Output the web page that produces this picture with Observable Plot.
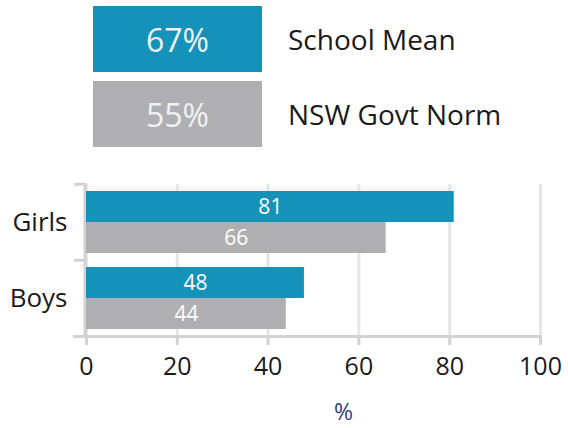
<!DOCTYPE html>
<html><head><meta charset="utf-8">
<script src="https://cdn.jsdelivr.net/npm/d3@7"></script>
<script src="https://cdn.jsdelivr.net/npm/@observablehq/plot@0.6"></script>
<style>
html,body{margin:0;padding:0;background:#fff;}
body{width:568px;height:428px;overflow:hidden;font-family:"Open Sans",sans-serif;}
#legend{height:160px;box-sizing:border-box;padding-top:6px;}
.row{display:flex;align-items:center;margin-left:93px;height:66px;margin-bottom:9px;}
.swatch{width:169px;height:66px;display:flex;align-items:center;justify-content:center;color:#eef2f4;font-size:32px;}
.name{margin-left:26px;font-size:28px;color:#1a1a1a;}
#chart svg{display:block;}
</style></head><body>
<div id="legend"></div><div id="chart"></div>
<script>
const categories = ["Girls", "Boys"];
const seriesNames = ["School Mean", "NSW Govt Norm"];
const schoolValues = [81, 48];
const normValues = [66, 44];
const overallValues = [67, 55];
const seriesColors = ["#1592b9", "#afafb1"];
const xTicks = [0, 20, 40, 60, 80, 100];

const seriesValues = [schoolValues, normValues];
const data = [];
categories.forEach((c, i) => seriesNames.forEach((s, j) => data.push({group: c, series: s, value: seriesValues[j][i]})));

// Legend
const rows = d3.select("#legend").selectAll("div.row").data(seriesNames).join("div").attr("class", "row");
rows.append("div").attr("class", "swatch").style("background", (d, i) => seriesColors[i]).text((d, i) => `${overallValues[i]}%`);
rows.append("div").attr("class", "name").text(d => d);

const W = 568, H = 268, mT = 23, mB = 92;
const band = (H - mT - mB) / categories.length;
const axisStroke = "#d2d2d2";

const chart = Plot.plot({
  width: W, height: H, marginTop: mT, marginBottom: mB, marginLeft: 86, marginRight: 28,
  style: {fontFamily: "'Open Sans', sans-serif", background: "white", color: "#1a1a1a"},
  x: {domain: [0, 100]},
  fy: {domain: categories, padding: 0},
  y: {domain: seriesNames, paddingInner: 0, paddingOuter: 0.22, axis: null},
  color: {domain: seriesNames, range: seriesColors},
  marks: [
    Plot.gridX(xTicks, {stroke: "#e6e6e6", strokeOpacity: 1, strokeWidth: 3}),
    Plot.frame({anchor: "left", stroke: axisStroke, strokeWidth: 3, dx: -1.5}),
    Plot.frame({anchor: "bottom", facet: "super", stroke: axisStroke, strokeWidth: 3, insetLeft: -12}),
    Plot.axisFy({anchor: "left", text: null, tickSize: 12, dy: -band / 2, stroke: axisStroke, strokeWidth: 3, label: null}),
    Plot.axisFy({anchor: "left", tickSize: 0, tickPadding: 19, fontSize: 26, label: null}),
    Plot.axisX(xTicks, {tickSize: 9, tickPadding: 12, stroke: axisStroke, strokeWidth: 3, fontSize: 25, label: null}),
    Plot.barX(data, {fy: "group", y: "series", x: "value", fill: "series"}),
    Plot.text(data, {fy: "group", y: "series", x: d => d.value / 2, text: d => `${d.value}`, fill: "white", fontSize: 21}),
    Plot.text(["%"], {facet: "super", frameAnchor: "bottom", dy: 83, dx: 30, fill: "#2d3f7e", fontSize: 23})
  ]
});
document.getElementById("chart").appendChild(chart);
</script></body></html>
